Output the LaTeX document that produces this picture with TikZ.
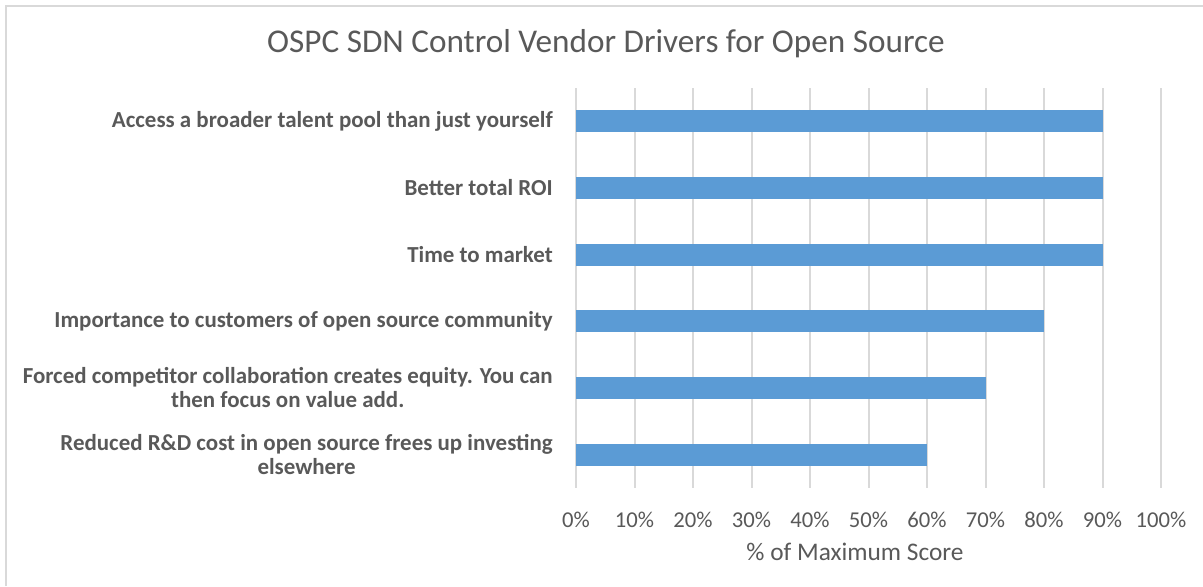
\documentclass[tikz,border=0pt]{standalone}
\usepackage{fontspec}
\setmainfont{Carlito}
\definecolor{barblue}{HTML}{5B9BD5}
\definecolor{gridgray}{HTML}{D9D9D9}
\definecolor{txtgray}{HTML}{595959}
\begin{document}
\begin{tikzpicture}[x=0.75pt,y=-0.75pt,
  gridline/.style={draw=gridgray,line width=1.5pt},
  bar/.style={fill=barblue,draw=none},
  catlabel/.style={anchor=east,align=center,text=txtgray,inner sep=0pt,
    font=\fontsize{17.2}{18}\selectfont\bfseries},
  ticklabel/.style={text=txtgray,inner sep=0pt,font=\fontsize{17}{20}\selectfont},
  axislabel/.style={text=txtgray,inner sep=0pt,font=\fontsize{19}{22}\selectfont},
  titlelabel/.style={text=txtgray,inner sep=0pt,font=\fontsize{24.9}{28}\selectfont}]
\useasboundingbox (0,0) rectangle (1203,586);
\fill[white] (0,0) rectangle (1203,586);
% chart frame (left and top edges)
\draw[draw=gridgray,line width=1.2pt] (6,586) -- (6,6) -- (1203,6);
% title
\node[titlelabel] (title) at (606,44) {OSPC SDN Control Vendor Drivers for Open Source};
% vertical gridlines and tick labels
\foreach \i in {0,...,10} {
  \pgfmathsetmacro{\gx}{576+58.5*\i}
  \draw[gridline] (\gx,88) -- (\gx,488);
  \pgfmathtruncatemacro{\pc}{10*\i}
  \node[ticklabel] (tick\i) at (\gx,520) {\pc\%};
}
% bars
\foreach \v [count=\k from 0] in {90,90,90,80,70,60} {
  \pgfmathsetmacro{\cy}{121.3+66.67*\k}
  \pgfmathsetmacro{\ex}{576+5.85*\v}
  \fill[barblue] (576,\cy-11) rectangle (\ex,\cy+11);
}
% category labels
\node[catlabel] (c1) at (553,121.3) {Access a broader talent pool than just yourself};
\node[catlabel] (c2) at (553,188) {Better total ROI};
\node[catlabel] (c3) at (553,254.7) {Time to market};
\node[catlabel] (c4) at (553,321.3) {Importance to customers of open source community};
\node[catlabel] (c5) at (553,388) {Forced competitor collaboration creates equity. You can\\then focus on value add.};
\node[catlabel] (c6) at (553,454.7) {Reduced R\&D cost in open source frees up investing\\elsewhere};
% axis title
\node[axislabel] (xtitle) at (855,552) {\% of Maximum Score};
\end{tikzpicture}
\end{document}
